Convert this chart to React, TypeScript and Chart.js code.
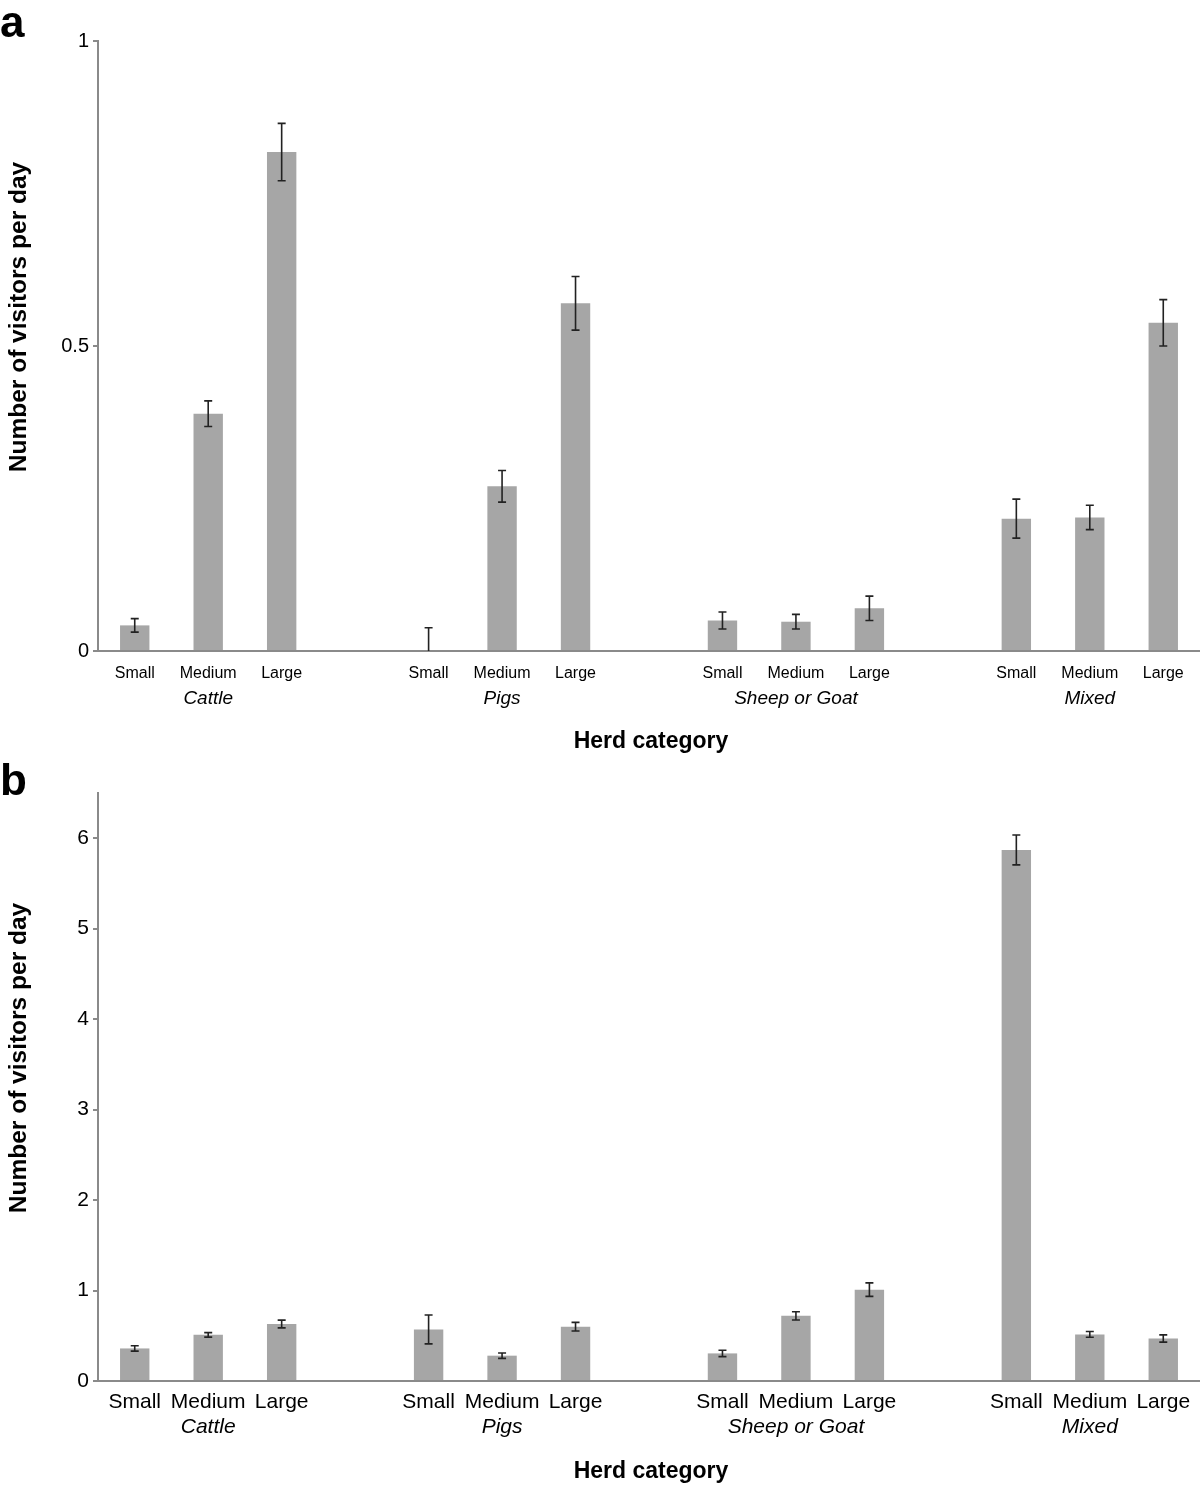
import React, { useEffect, useRef } from 'react';
import { Chart, registerables } from 'chart.js';

Chart.register(...registerables);

// ---- Data ----
const categories = [
  'Small', 'Medium', 'Large', '',
  'Small', 'Medium', 'Large', '',
  'Small', 'Medium', 'Large', '',
  'Small', 'Medium', 'Large',
];
const groupNames = ['Cattle', 'Pigs', 'Sheep or Goat', 'Mixed'];
const groupCenterIndex = [1, 5, 9, 13];

const panelAValues = [0.042, 0.389, 0.818, null, 0, 0.27, 0.57, null, 0.05, 0.048, 0.07, null, 0.217, 0.219, 0.538];
const panelAErrors = [0.011, 0.021, 0.047, null, 0.038, 0.026, 0.044, null, 0.014, 0.012, 0.02, null, 0.032, 0.02, 0.038];

const panelBValues = [0.36, 0.51, 0.63, null, 0.57, 0.28, 0.6, null, 0.305, 0.72, 1.01, null, 5.87, 0.515, 0.47];
const panelBErrors = [0.03, 0.025, 0.043, null, 0.16, 0.03, 0.048, null, 0.035, 0.045, 0.075, null, 0.165, 0.032, 0.04];

const yTitle = 'Number of visitors per day';
const xTitle = 'Herd category';

const FONT = '"Liberation Sans", Arial, Helvetica, sans-serif';
const BAR_COLOR = '#a6a6a6';
const AXIS_COLOR = '#8a8a8a';

type PanelProps = {
  letter: string;
  values: (number | null)[];
  errors: (number | null)[];
  yMax: number;
  yStep: number;
  height: number;
  plotTop: number;
  plotBottom: number;
  tickFontX: number;
  tickFontY: number;
  tickPadX: number;
  groupFont: number;
  groupY: number;
  titleFont: number;
  yTitleFont: number;
  titleY: number;
  letterY: number;
};

function Panel(p: PanelProps) {
  const ref = useRef<HTMLCanvasElement | null>(null);

  useEffect(() => {
    if (!ref.current) return;

    const overlay = {
      id: 'overlay',
      afterDatasetsDraw(chart: any) {
        const { ctx, chartArea, scales } = chart;
        const meta = chart.getDatasetMeta(0);
        ctx.save();
        ctx.beginPath();
        ctx.rect(chartArea.left, 0, chartArea.right - chartArea.left, chartArea.bottom);
        ctx.clip();
        ctx.strokeStyle = '#222222';
        ctx.lineWidth = 1.6;
        meta.data.forEach((bar: any, i: number) => {
          const v = p.values[i];
          const e = p.errors[i];
          if (v == null || e == null) return;
          const x = bar.x;
          const yHi = scales.y.getPixelForValue(v + e);
          const yLo = scales.y.getPixelForValue(v - e);
          ctx.beginPath();
          ctx.moveTo(x, yHi);
          ctx.lineTo(x, yLo);
          ctx.moveTo(x - 4, yHi);
          ctx.lineTo(x + 4, yHi);
          ctx.moveTo(x - 4, yLo);
          ctx.lineTo(x + 4, yLo);
          ctx.stroke();
        });
        ctx.restore();
      },
      afterDraw(chart: any) {
        const { ctx, chartArea, scales } = chart;
        ctx.save();
        ctx.fillStyle = '#000';
        // group names
        ctx.font = `italic ${p.groupFont}px ${FONT}`;
        ctx.textAlign = 'center';
        ctx.textBaseline = 'middle';
        groupNames.forEach((g, k) => {
          ctx.fillText(g, scales.x.getPixelForValue(groupCenterIndex[k]), p.groupY);
        });
        // x title
        ctx.font = `bold ${p.titleFont}px ${FONT}`;
        ctx.fillText(xTitle, (chartArea.left + chartArea.right) / 2 + 2, p.titleY);
        // y title
        ctx.font = `bold ${p.yTitleFont}px ${FONT}`;
        ctx.save();
        ctx.translate(19, (chartArea.top + chartArea.bottom) / 2 - 29);
        ctx.rotate(-Math.PI / 2);
        ctx.fillText(yTitle, 0, 0);
        ctx.restore();
        // panel letter
        ctx.font = `bold 44px ${FONT}`;
        ctx.textAlign = 'left';
        ctx.textBaseline = 'alphabetic';
        ctx.fillText(p.letter, 0, p.letterY);
        ctx.restore();
      },
    };

    const chart = new Chart(ref.current, {
      type: 'bar',
      data: {
        labels: categories,
        datasets: [
          {
            data: p.values as any,
            backgroundColor: BAR_COLOR,
            borderWidth: 0,
            barPercentage: 0.4,
            categoryPercentage: 1,
          },
        ],
      },
      options: {
        responsive: false,
        animation: false,
        devicePixelRatio: 1,
        layout: { padding: { top: p.plotTop, left: 0, right: 0, bottom: 0 } },
        plugins: {
          legend: { display: false },
          tooltip: { enabled: false },
          title: { display: false },
        },
        scales: {
          x: {
            offset: true,
            grid: { display: false },
            border: { display: true, color: AXIS_COLOR, width: 2 },
            ticks: {
              autoSkip: false,
              maxRotation: 0,
              minRotation: 0,
              color: '#000',
              padding: p.tickPadX,
              font: { family: FONT, size: p.tickFontX },
            },
            afterFit(scale: any) {
              scale.height = p.height - p.plotBottom;
            },
          },
          y: {
            min: 0,
            max: p.yMax,
            grid: {
              drawOnChartArea: false,
              drawTicks: true,
              tickLength: 5,
              color: AXIS_COLOR,
              lineWidth: 2,
            },
            border: { display: true, color: AXIS_COLOR, width: 2 },
            ticks: {
              stepSize: p.yStep,
              includeBounds: false,
              color: '#000',
              padding: 4,
              font: { family: FONT, size: p.tickFontY },
              callback: (v: any) => String(Number(v)),
            },
            afterFit(scale: any) {
              scale.width = 98;
            },
          },
        },
      },
      plugins: [overlay],
    });

    return () => chart.destroy();
  }, []);

  return (
    <canvas
      ref={ref}
      width={1200}
      height={p.height}
      style={{ display: 'block', width: 1200, height: p.height }}
    />
  );
}

export default function App() {
  return (
    <div style={{ position: 'absolute', left: 0, top: 0, width: 1200, height: 1485, background: '#fff' }}>
      <Panel
        letter="a"
        values={panelAValues}
        errors={panelAErrors}
        yMax={1}
        yStep={0.5}
        height={760}
        plotTop={41}
        plotBottom={651}
        tickFontX={16}
        tickFontY={20}
        tickPadX={5}
        groupFont={19}
        groupY={699}
        titleFont={23}
        yTitleFont={24.5}
        titleY={742}
        letterY={37}
      />
      <Panel
        letter="b"
        values={panelBValues}
        errors={panelBErrors}
        yMax={6.5}
        yStep={1}
        height={725}
        plotTop={33}
        plotBottom={621}
        tickFontX={21}
        tickFontY={21}
        tickPadX={1}
        groupFont={21}
        groupY={667}
        titleFont={23}
        yTitleFont={24.5}
        titleY={712}
        letterY={35}
      />
    </div>
  );
}
